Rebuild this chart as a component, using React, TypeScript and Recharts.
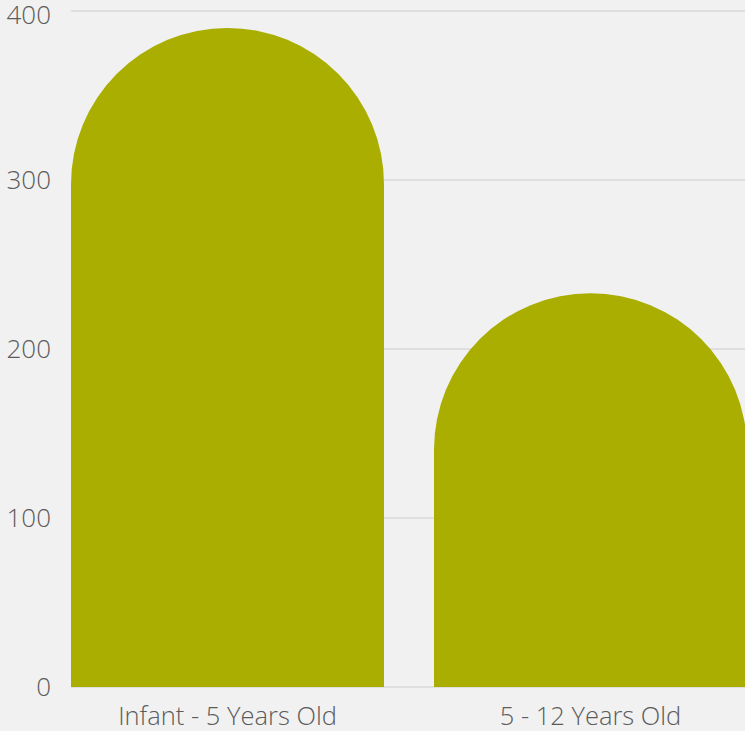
import React from 'react';
import { BarChart, Bar, XAxis, YAxis, CartesianGrid } from 'recharts';

const CATEGORIES = ['Infant - 5 Years Old', '5 - 12 Years Old'];
const VALUES = [390, 233];
const Y_TICKS = [0, 100, 200, 300, 400];

const DATA = CATEGORIES.map((name, i) => ({ name, value: VALUES[i] }));

const BG = '#f1f1f1';
const BAR = '#a9ae00';
const TEXT = '#5c5c5c';
const FONT = '"Open Sans", sans-serif';

export default function App() {
    return (
        <div style={{ position: 'absolute', left: 0, top: 0, width: 745, height: 731, overflow: 'hidden', background: BG }}>
            <BarChart
                width={747}
                height={731}
                data={DATA}
                margin={{ top: 11, right: 0, left: 0, bottom: 0 }}
                barCategoryGap={25}
                style={{ fontFamily: FONT }}
            >
                <CartesianGrid vertical={false} stroke="#d9d9d9" strokeWidth={1.5} />
                <XAxis
                    dataKey="name"
                    padding={{ left: -25, right: -25 }}
                    axisLine={false}
                    tickLine={false}
                    tickSize={0}
                    tickMargin={20}
                    height={44}
                    tick={{ fill: TEXT, fontSize: 25.5, fontFamily: FONT, fontWeight: 300 }}
                    interval={0}
                />
                <YAxis
                    domain={[0, 400]}
                    ticks={Y_TICKS}
                    width={71}
                    axisLine={false}
                    tickLine={false}
                    tickSize={0}
                    tickMargin={20}
                    tick={{ fill: TEXT, fontSize: 26, fontFamily: FONT, fontWeight: 300 }}
                />
                <Bar dataKey="value" fill={BAR} radius={[157, 157, 0, 0]} isAnimationActive={false} />
            </BarChart>
        </div>
    );
}
